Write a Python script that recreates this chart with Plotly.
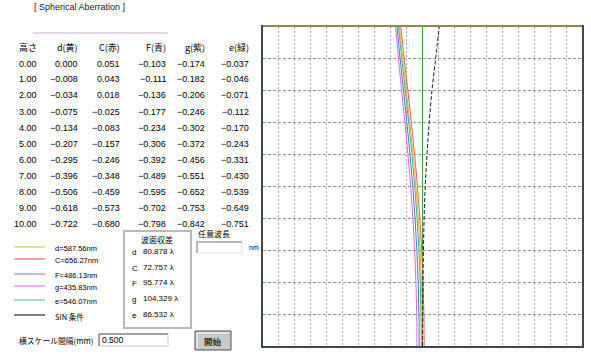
import plotly.graph_objects as go

W, H = 591, 358

# ---------------- data ----------------
title_text = "[ Spherical Aberration ]"
col_headers = ["高さ", "d(黄)", "C(赤)", "F(青)", "g(紫)", "e(緑)"]
heights = [0.0, 1.0, 2.0, 3.0, 4.0, 5.0, 6.0, 7.0, 8.0, 9.0, 10.0]
d_vals = [0.000, -0.008, -0.034, -0.075, -0.134, -0.207, -0.295, -0.396, -0.506, -0.618, -0.722]
C_vals = [0.051, 0.043, 0.018, -0.025, -0.083, -0.157, -0.246, -0.348, -0.459, -0.573, -0.680]
F_vals = [-0.103, -0.111, -0.136, -0.177, -0.234, -0.306, -0.392, -0.489, -0.595, -0.702, -0.798]
g_vals = [-0.174, -0.182, -0.206, -0.246, -0.302, -0.372, -0.456, -0.551, -0.652, -0.753, -0.842]
e_vals = [-0.037, -0.046, -0.071, -0.112, -0.170, -0.243, -0.331, -0.430, -0.539, -0.649, -0.751]
sin_vals = [0.000, 0.005, 0.015, 0.030, 0.050, 0.085, 0.140, 0.210, 0.295, 0.410, 0.525]

series_names = ["d", "C", "F", "g", "e"]
legend_labels = ["d=587.56nm", "C=656.27nm", "F=486.13nm", "g=435.83nm", "e=546.07nm", "SIN 条件"]
wavefront_title = "波面収差"
wavefront_letters = ["d", "C", "F", "g", "e"]
wavefront_vals = [80.878, 72.757, 95.774, 104.329, 86.532]
any_wave_label = "任意波長"
any_wave_unit = "nm"
scale_label = "横スケール間隔(mm)"
scale_interval = 0.500
start_label = "開始"
x_half_divisions = 10  # 10 divisions each side of zero

# ---------------- styles / positions ----------------
LAT = "Liberation Sans, Arial, sans-serif"
JP = "Noto Sans CJK JP, sans-serif"
series_colors = ["#e0b830", "#f05858", "#5070e0", "#e068e0", "#40b878"]
legend_colors = ["#c8c040", "#f04848", "#6080d8", "#e060e0", "#40c0a0", "#000000"]
col_right = [39, 80, 122, 168, 207, 251]
header_y = 48
row_y0, row_dy = 63.5, 16
plot_l, plot_r, plot_t, plot_b = 263, 582, 27, 346


def px(x):
    return x / W


def py(y):
    return 1 - y / H


def ann(x, y, text, size=9, anchor="left", family=LAT, color="#000000"):
    return dict(x=px(x), y=py(y), xref="paper", yref="paper", text=text,
                showarrow=False, xanchor=anchor, yanchor="middle",
                font=dict(size=size, family=family, color=color))


def fmt(v):
    return f"{v:.3f}".replace("-", "−")


fig = go.Figure()

all_series = [d_vals, C_vals, F_vals, g_vals, e_vals]
for name, vals, col in zip(series_names, all_series, series_colors):
    fig.add_trace(go.Scatter(x=vals, y=heights, mode="lines", name=name,
                             line=dict(color=col, width=1, shape="spline"),
                             hoverinfo="skip", showlegend=False))
fig.add_trace(go.Scatter(x=sin_vals, y=heights, mode="lines", name="SIN",
                         line=dict(color="#202020", width=1, dash="4px,2px", shape="spline"),
                         hoverinfo="skip", showlegend=False))

annotations = [ann(32, 7.5, title_text, size=9, color="#202020")]
# table header
for j, htxt in enumerate(col_headers):
    annotations.append(ann(col_right[j], header_y, htxt, size=9, anchor="right", family=JP))
# table rows
for i, h in enumerate(heights):
    y = row_y0 + row_dy * i
    annotations.append(ann(col_right[0], y, f"{h:.2f}", size=9, anchor="right"))
    for j, vals in enumerate(all_series):
        annotations.append(ann(col_right[j + 1], y, fmt(vals[i]), size=9, anchor="right"))

shapes = [dict(type="line", xref="paper", yref="paper", x0=px(33), x1=px(168),
               y0=py(33), y1=py(33), line=dict(color="#c8a8d0", width=1))]

# legend
legend_y = [247, 259, 274, 286, 300, 315]
for lbl, col, y in zip(legend_labels, legend_colors, legend_y):
    shapes.append(dict(type="line", xref="paper", yref="paper", x0=px(14), x1=px(45),
                       y0=py(y), y1=py(y), line=dict(color=col, width=1)))
    annotations.append(ann(53, y + 1, lbl, size=7.5, family=LAT if "条" not in lbl else JP))

# wavefront box
shapes.append(dict(type="rect", xref="paper", yref="paper", x0=px(124), x1=px(191),
                   y0=py(231), y1=py(328), line=dict(color="#b8b8b8", width=2)))
annotations.append(ann(157, 239, wavefront_title, size=8, anchor="center", family=JP))
wf_y = [251, 267, 282.5, 298, 314.5]
for L, v, y in zip(wavefront_letters, wavefront_vals, wf_y):
    annotations.append(ann(130, y + 1, L, size=8))
    annotations.append(ann(141, y, f"{v:.3f} λ", size=8))

# arbitrary wavelength input
annotations.append(ann(196, 233.5, any_wave_label, size=8, family=JP))
shapes += [
    dict(type="rect", xref="paper", yref="paper", x0=px(197), x1=px(242), y0=py(242), y1=py(253),
         fillcolor="#ffffff", line=dict(color="#e0e0e0", width=1)),
    dict(type="line", xref="paper", yref="paper", x0=px(197), x1=px(242), y0=py(242), y1=py(242),
         line=dict(color="#808080", width=1)),
    dict(type="line", xref="paper", yref="paper", x0=px(197), x1=px(197), y0=py(242), y1=py(253),
         line=dict(color="#808080", width=1)),
]
annotations.append(ann(247, 247, any_wave_unit, size=7))

# scale input
annotations.append(ann(17, 340, scale_label, size=7.8, family=JP))
shapes += [
    dict(type="rect", xref="paper", yref="paper", x0=px(99), x1=px(168), y0=py(334), y1=py(346),
         fillcolor="#ffffff", line=dict(color="#c8c8c8", width=1)),
    dict(type="line", xref="paper", yref="paper", x0=px(99), x1=px(168), y0=py(334), y1=py(334),
         line=dict(color="#606060", width=1)),
    dict(type="line", xref="paper", yref="paper", x0=px(99), x1=px(99), y0=py(334), y1=py(346),
         line=dict(color="#606060", width=1)),
]
annotations.append(ann(100, 340, f"{scale_interval:.3f}", size=8.5))

# start button
shapes += [
    dict(type="rect", xref="paper", yref="paper", x0=px(195), x1=px(231), y0=py(331), y1=py(350),
         fillcolor="#c8c8c8", line=dict(color="#505050", width=1)),
    dict(type="line", xref="paper", yref="paper", x0=px(197), x1=px(229), y0=py(333), y1=py(333),
         line=dict(color="#ffffff", width=1)),
    dict(type="line", xref="paper", yref="paper", x0=px(197), x1=px(197), y0=py(333), y1=py(348),
         line=dict(color="#ffffff", width=1)),
]
annotations.append(ann(213, 341, "<b>" + start_label + "</b>", size=8.5, anchor="center",
                       family=JP, color="#303030"))

# yellow top edge of plot
shapes.append(dict(type="line", xref="paper", yref="paper", x0=px(plot_l), x1=px(plot_r),
                   y0=py(plot_t - 1), y1=py(plot_t - 1), line=dict(color="#e8c840", width=1)))

fig.update_layout(
    width=W, height=H, margin=dict(l=0, r=0, t=0, b=0),
    paper_bgcolor="#ffffff", plot_bgcolor="#ffffff",
    annotations=annotations, shapes=shapes, showlegend=False,
    xaxis=dict(domain=[px(plot_l), px(plot_r)],
               range=[-x_half_divisions * scale_interval, x_half_divisions * scale_interval],
               dtick=scale_interval, tick0=0, showgrid=True, gridcolor="#a8a8a8", gridwidth=1,
               griddash="2px,2px", showticklabels=False, ticks="",
               zeroline=True, zerolinecolor="#40a040", zerolinewidth=1,
               showline=True, mirror=True, linecolor="#404850", linewidth=1.5, fixedrange=True),
    yaxis=dict(domain=[py(plot_b), py(plot_t)], range=[0, 10], dtick=1, tick0=0,
               showgrid=True, gridcolor="#999999", gridwidth=1, griddash="3px,2px",
               showticklabels=False, ticks="", zeroline=False,
               showline=True, mirror=True, linecolor="#404850", linewidth=1.5, fixedrange=True),
)

fig.write_html("out.html")
